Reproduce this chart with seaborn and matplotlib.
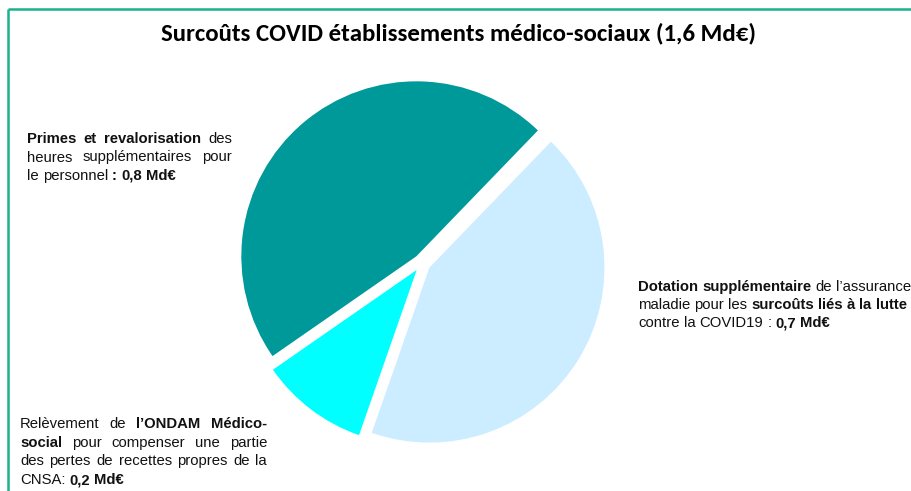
import matplotlib
matplotlib.use("Agg")
import matplotlib.pyplot as plt
import seaborn as sns
from matplotlib.lines import Line2D
from matplotlib import font_manager

# ---------------- data ----------------
title = "Surcoûts COVID établissements médico-sociaux (1,6 Md€)"
categories = ["Primes et revalorisation", "Relèvement ONDAM médico-social", "Dotation supplémentaire"]
values = [0.75, 0.16, 0.69]          # Md€
colors = ["#009999", "#00FFFF", "#CCECFF"]

# label texts: lines of (text, bold) segments
label_primes = [
    [("Primes et revalorisation", True), ("des", False)],
    [("heures supplémentaires pour", False)],
    [("le personnel", False), (": 0,8 Md€", True)],
]
label_dotation = [
    [("Dotation supplémentaire", True), ("de l’assurance", False)],
    [("maladie pour les", False), ("surcoûts liés à la lutte", True)],
    [("contre la COVID19 :", False), ("0,7 Md€", True)],
]
label_ondam = [
    [("Relèvement de", False), ("l’ONDAM Médico-", True)],
    [("social", True), ("pour compenser une partie", False)],
    [("des pertes de recettes propres de la", False)],
    [("CNSA:", False), ("0,2 Md€", True)],
]

# ---------------- figure ----------------
sns.set_theme(style="white")
plt.rcParams["font.family"] = ["Liberation Sans", "DejaVu Sans"]

W, H = 912, 491
fig = plt.figure(figsize=(W / 100, H / 100), dpi=100)
fig.patch.set_facecolor("white")

# border
border_col = "#1DB08C"
fig.add_artist(Line2D([8 / W, 1.0], [1 - 9 / H, 1 - 9 / H], transform=fig.transFigure,
                      color=border_col, linewidth=1.8, solid_capstyle="butt"))
fig.add_artist(Line2D([8 / W, 8 / W], [0.0, 1 - 9 / H], transform=fig.transFigure,
                      color=border_col, linewidth=1.8, solid_capstyle="butt"))

# pie
R = 175
cx, cy = 422, 263
half = 1.25 * R
ax = fig.add_axes([(cx - half) / W, (H - cy - half) / H, 2 * half / W, 2 * half / H])
ax.pie(values, colors=colors, startangle=46, counterclock=True,
       explode=[0.05, 0.05, 0.05], radius=1.0, wedgeprops=dict(linewidth=0))
ax.set_xlim(-1.25, 1.25)
ax.set_ylim(-1.25, 1.25)
ax.set_aspect("equal")
ax.axis("off")

renderer = fig.canvas.get_renderer()

# title
avail = {f.name for f in font_manager.fontManager.ttflist}
tfam = None
for cand in ["Carlito", "Liberation Sans Narrow", "Lato", "Open Sans"]:
    if cand in avail:
        tfam = [cand, "DejaVu Sans"]
        break
if tfam is None:
    tfam = ["Liberation Sans", "DejaVu Sans"]
tt = fig.text(459 / W, 1 - 40 / H, title, ha="center", va="baseline",
              fontsize=15, fontweight="bold", family=tfam, color="black")
tw = tt.get_window_extent(renderer).width
tt.set_fontsize(15 * 598 / tw)

FS = 10.7


def measure(s, bold):
    t = fig.text(0, 0, s, fontsize=FS, fontweight="bold" if bold else "normal")
    w = t.get_window_extent(renderer).width
    t.remove()
    return w


SP = {b: measure("a a", b) - measure("aa", b) for b in (False, True)}


def draw_block(lines, x0, y0, dy, width=None):
    for i, segs in enumerate(lines):
        words = []
        for text, bold in segs:
            for w in text.split(" "):
                if w:
                    words.append((w, bold))
        widths = [measure(w, b) for w, b in words]
        last = i == len(lines) - 1
        if width is not None and not last and len(words) > 1:
            gaps = [(width - sum(widths)) / (len(words) - 1)] * (len(words) - 1)
        else:
            gaps = [SP[words[k][1] and words[k + 1][1]] for k in range(len(words) - 1)]
        x = x0
        y = y0 + i * dy
        for k, (w, b) in enumerate(words):
            fig.text(x / W, 1 - y / H, w, fontsize=FS, fontweight="bold" if b else "normal",
                     ha="left", va="baseline", color="#111111")
            x += widths[k] + (gaps[k] if k < len(gaps) else 0)


draw_block(label_primes, 27, 143, 18.5, width=205)
draw_block(label_dotation, 638, 291, 18)
draw_block(label_ondam, 20, 428, 18.7, width=247)

fig.savefig("out.png", dpi=100, facecolor="white")
